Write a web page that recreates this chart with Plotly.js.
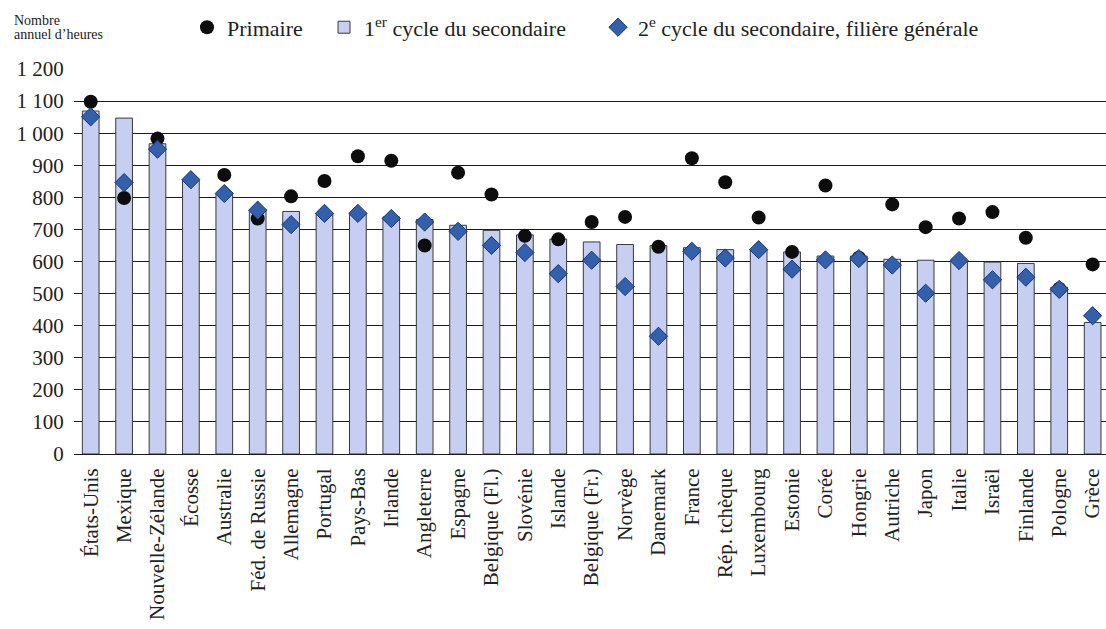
<!DOCTYPE html>
<html>
<head>
<meta charset="utf-8">
<script src="https://cdn.plot.ly/plotly-3.0.1.min.js"></script>
<style>html,body{margin:0;padding:0;background:#fff;}#chart{width:1106px;height:629px;}</style>
</head>
<body>
<div id="chart"></div>
<script>
const countries = ["États-Unis","Mexique","Nouvelle-Zélande","Écosse","Australie","Féd. de Russie","Allemagne","Portugal","Pays-Bas","Irlande","Angleterre","Espagne","Belgique (Fl.)","Slovénie","Islande","Belgique (Fr.)","Norvège","Danemark","France","Rép. tchèque","Luxembourg","Estonie","Corée","Hongrie","Autriche","Japon","Italie","Israël","Finlande","Pologne","Grèce"];
const secondaire1 = [1069,1047,967,853,810,762,756,750,750,739,731,713,697,683,670,661,653,650,643,637,637,630,617,617,607,604,602,598,594,520,410];
const primaire = [1098,798,983,null,870,734,803,851,928,914,650,877,809,680,669,723,739,646,922,847,737,630,837,612,778,707,734,754,674,515,591];
const secondaire2 = [1051,846,950,855,812,760,715,750,750,734,723,694,650,628,562,604,522,367,632,611,637,576,605,609,589,501,603,543,551,513,431];
const yTickVals = [0,100,200,300,400,500,600,700,800,900,1000,1100,1200];
const yTickText = ["0","100","200","300","400","500","600","700","800","900","1 000","1 100","1 200"];

const serif = "Liberation Serif, Times New Roman, serif";
const legendFont = {family:serif, size:22, color:"#222"};

const traces = [
  {type:"bar", x:countries, y:secondaire1, name:"1<sup>er</sup> cycle du secondaire", width:0.5,
   marker:{color:"#c6cef2", line:{color:"#3a3a3a", width:1}}, legend:"legend2"},
  {type:"scatter", mode:"markers", x:countries, y:primaire, name:"Primaire",
   marker:{symbol:"circle", size:14, color:"#0d0d0d"}, legend:"legend"},
  {type:"scatter", mode:"markers", x:countries, y:secondaire2, name:"2<sup>e</sup> cycle du secondaire, filière générale",
   marker:{symbol:"diamond", size:14, color:"#3260ad", line:{color:"#1b356e", width:1}}, legend:"legend3"}
];

function leg(px) {
  return {orientation:"h", x:(px - 20 - 74) / 1032, xanchor:"left", y:1.108, yanchor:"middle",
          font:legendFont, bgcolor:"rgba(0,0,0,0)", itemwidth:30};
}

const layout = {
  width:1106, height:629,
  margin:{l:74, r:0, t:69, b:175},
  paper_bgcolor:"#fff", plot_bgcolor:"#fff",
  font:{family:serif, color:"#222", size:16},
  showlegend:true,
  legend:leg(207),
  legend2:leg(344),
  legend3:leg(618),
  xaxis:{type:"category", range:[-0.5,30.4], tickangle:-90, showgrid:false, showline:false,
         ticks:"outside", ticklen:5, tickcolor:"rgba(0,0,0,0)",
         tickfont:{family:serif, size:21, color:"#222"}, fixedrange:true},
  yaxis:{range:[0,1200], tickvals:yTickVals, ticktext:yTickText, showgrid:true, gridcolor:"#1a1a1a", gridwidth:1,
         zeroline:true, zerolinecolor:"#1a1a1a", zerolinewidth:1, showline:false,
         ticks:"outside", ticklen:5, tickcolor:"rgba(0,0,0,0)",
         tickfont:{family:serif, size:21, color:"#222"}, fixedrange:true},
  annotations:[
    {xref:"paper", yref:"paper", x:-0.0605, y:(454-20)/385, xanchor:"left", yanchor:"middle", align:"left",
     showarrow:false, text:"Nombre", font:{family:serif, size:14, color:"#222"}},
    {xref:"paper", yref:"paper", x:-0.0605, y:(454-35)/385, xanchor:"left", yanchor:"middle", align:"left",
     showarrow:false, text:"annuel d’heures", font:{family:serif, size:14, color:"#222"}}
  ]
};

Plotly.newPlot("chart", traces, layout, {displayModeBar:false, staticPlot:true});
</script>
</body>
</html>
